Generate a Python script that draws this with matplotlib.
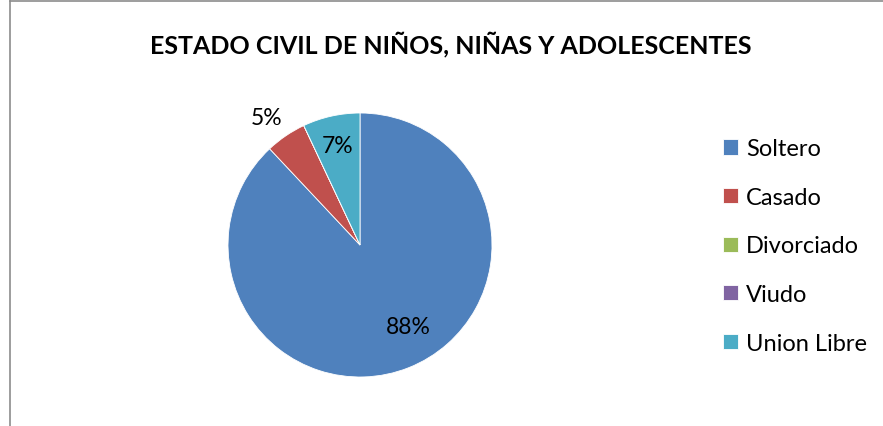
import matplotlib
matplotlib.use("Agg")
import matplotlib.pyplot as plt
from matplotlib.lines import Line2D
import numpy as np

categories = ["Soltero", "Casado", "Divorciado", "Viudo", "Union Libre"]
values = [88, 5, 0, 0, 7]
colors = ["#4F81BD", "#C0504D", "#9BBB59", "#8064A2", "#4BACC6"]
title = "ESTADO CIVIL DE NIÑOS, NIÑAS Y ADOLESCENTES"

plt.rcParams['font.family'] = ['Lato', 'DejaVu Sans']

W, H = 883, 427
fig = plt.figure(figsize=(W / 100, H / 100), dpi=100)
fig.patch.set_facecolor("white")

# frame (top and left edges visible)
fx, fy = 9.5 / W, 1 - 1.5 / H
fig.add_artist(Line2D([fx, 1.01], [fy, fy], transform=fig.transFigure,
                      color="#8c8c8c", linewidth=1.2))
fig.add_artist(Line2D([fx, fx], [-0.01, fy], transform=fig.transFigure,
                      color="#8c8c8c", linewidth=1.2))

cx, cy, r = 360, 246, 132
ax = fig.add_axes([(cx - r) / W, (H - cy - r) / H, 2 * r / W, 2 * r / H])
wedges, _ = ax.pie(values, colors=colors, startangle=90, counterclock=False,
                   radius=1, wedgeprops=dict(linewidth=0.6, edgecolor="white"))
ax.set_xlim(-1, 1)
ax.set_ylim(-1, 1)
ax.set_aspect("auto")
ax.axis("off")

total = sum(values)
dists = [0.72, 1.2, 0.8, 0.8, 0.77]
angle_shift = [9, 2, 0, 0, 0]
for w, v, d, s in zip(wedges, values, dists, angle_shift):
    if v == 0:
        continue
    ang = np.deg2rad((w.theta1 + w.theta2) / 2 + s)
    ax.text(d * np.cos(ang), d * np.sin(ang), f"{round(100 * v / total)}%",
            ha="center", va="center", fontsize=16.5, color="black")

fig.text(451 / W, 1 - 44 / H, title, ha="center", va="center",
         fontsize=18, fontweight="bold")

leg = fig.legend(wedges, categories, loc="center left",
                 bbox_to_anchor=(702 / W, 1 - 247 / H), frameon=False,
                 fontsize=17, handlelength=0.62, handleheight=0.62,
                 handletextpad=0.35, labelspacing=1.17)

fig.savefig("out.png", dpi=100)
